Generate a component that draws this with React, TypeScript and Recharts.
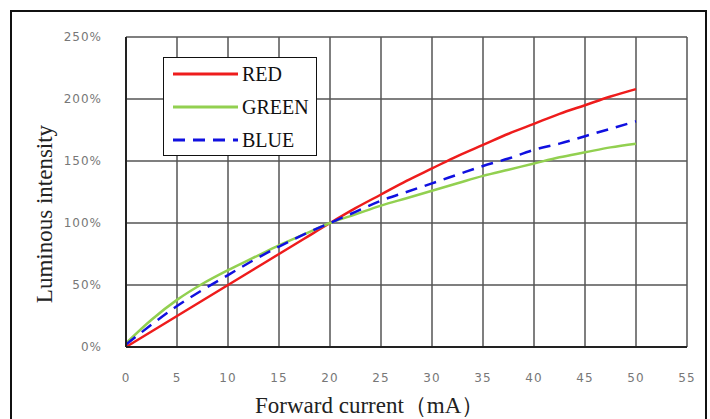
// Luminous intensity vs forward current chart

import React from 'react';
import { LineChart, Line, XAxis, YAxis, CartesianGrid } from 'recharts';

const currentMA = [0, 2.5, 5, 7.5, 10, 12.5, 15, 17.5, 20, 22.5, 25, 27.5, 30, 32.5, 35, 37.5, 40, 42.5, 45, 47.5, 50];
const redValues = [0, 12.5, 25, 37.5, 50, 62.5, 75, 87.5, 100, 112, 123, 134, 144, 154, 163, 172, 180, 188, 195, 202, 208];
const greenValues = [3, 22, 38, 51, 62, 72, 82, 91, 100, 107, 114, 120, 126, 132, 138, 143, 148, 153, 157, 161, 164];
const blueValues = [2, 18, 33, 46, 58, 70, 81, 91, 100, 109, 118, 125, 132, 139, 146, 152, 159, 164, 170, 176, 182];

const xTicks = [0, 5, 10, 15, 20, 25, 30, 35, 40, 45, 50, 55];
const yTicks = [0, 50, 100, 150, 200, 250];

const series = [
  { key: 'red', name: 'RED', color: '#ee1c1c', dash: undefined as string | undefined },
  { key: 'green', name: 'GREEN', color: '#92d050', dash: undefined as string | undefined },
  { key: 'blue', name: 'BLUE', color: '#1010e0', dash: '12 8' },
];

const chartData = currentMA.map((x, i) => ({
  x,
  red: redValues[i],
  green: greenValues[i],
  blue: blueValues[i],
}));

const tickStyle = { fill: '#777', fontSize: 12, fontFamily: 'DejaVu Sans', letterSpacing: 1 };

const LegendBox = () => (
  <div
    style={{
      position: 'absolute',
      left: 163,
      top: 57,
      width: 152,
      height: 97,
      border: '1.5px solid #111',
      background: '#fff',
    }}
  >
    <svg width={152} height={97} style={{ display: 'block' }}>
      {series.map((s, i) => (
        <g key={s.key}>
          <line
            x1={9}
            x2={74}
            y1={16 + i * 33}
            y2={16 + i * 33}
            stroke={s.color}
            strokeWidth={3}
            strokeDasharray={s.dash}
          />
          <text
            x={78}
            y={23 + i * 33}
            fontFamily="Liberation Serif"
            fontSize={20}
            fill="#111"
          >
            {s.name}
          </text>
        </g>
      ))}
    </svg>
  </div>
);

export default function App() {
  return (
    <div style={{ position: 'absolute', left: 0, top: 0, width: 710, height: 419, background: '#fff', overflow: 'hidden' }}>
      <div
        style={{
          position: 'absolute',
          left: 10,
          top: 10,
          width: 697,
          height: 430,
          border: '2px solid #111',
          boxSizing: 'border-box',
        }}
      />
      <LineChart
        width={710}
        height={419}
        data={chartData}
        margin={{ top: 37, right: 23, left: 66, bottom: 42 }}
      >
        <CartesianGrid stroke="#555" strokeWidth={1.5} />
        <XAxis
          dataKey="x"
          type="number"
          domain={[0, 55]}
          ticks={xTicks}
          tick={tickStyle}
          tickLine={false}
          tickMargin={20}
          axisLine={{ stroke: '#222', strokeWidth: 2 }}
          height={30}
        />
        <YAxis
          type="number"
          domain={[0, 250]}
          ticks={yTicks}
          tickFormatter={(v: number) => `${v}%`}
          tick={tickStyle}
          tickLine={false}
          tickMargin={18}
          axisLine={{ stroke: '#222', strokeWidth: 2 }}
          width={60}
        />
        {series.map((s) => (
          <Line
            key={s.key}
            dataKey={s.key}
            name={s.name}
            type="monotone"
            stroke={s.color}
            strokeWidth={2.5}
            strokeDasharray={s.dash}
            dot={false}
            activeDot={false}
            isAnimationActive={false}
          />
        ))}
      </LineChart>
      <LegendBox />
      <div
        style={{
          position: 'absolute',
          left: 45,
          top: 214,
          transform: 'translate(-50%, -50%) rotate(-90deg)',
          whiteSpace: 'nowrap',
          fontFamily: 'Liberation Serif',
          fontSize: 23,
          color: '#222',
        }}
      >
        Luminous intensity
      </div>
      <div
        style={{
          position: 'absolute',
          left: 255,
          top: 390,
          whiteSpace: 'nowrap',
          fontFamily: 'Liberation Serif',
          fontSize: 23,
          color: '#222',
        }}
      >
        Forward current（mA）
      </div>
    </div>
  );
}
